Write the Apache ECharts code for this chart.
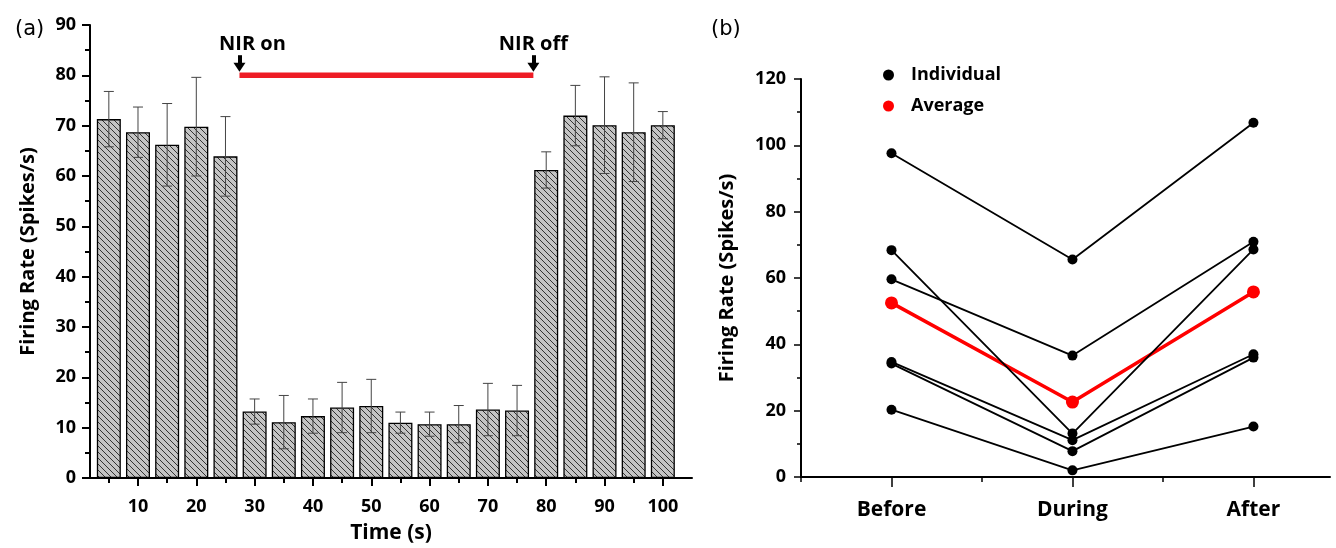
<!DOCTYPE html>
<html>
<head>
<meta charset="utf-8">
<script src="https://cdn.jsdelivr.net/npm/echarts@6/dist/echarts.min.js"></script>
<style>
    html, body { margin: 0; padding: 0; background: #fff; }
    #main { width: 1336px; height: 548px; }
</style>
</head>
<body>
<div id="main"></div>
<script type="text/javascript">
    // (a) firing rate per 5 s bin
    var times = [5, 10, 15, 20, 25, 30, 35, 40, 45, 50, 55, 60, 65, 70, 75, 80, 85, 90, 95, 100];
    var rateMean = [71.3, 68.7, 66.2, 69.8, 63.9, 13.2, 11.1, 12.3, 14.0, 14.3, 11.0, 10.7, 10.7, 13.6, 13.4, 61.2, 72.0, 70.1, 68.7, 70.1];
    var rateErr = [5.5, 5.0, 8.2, 9.8, 7.9, 2.5, 5.3, 3.4, 5.0, 5.3, 2.1, 2.4, 3.7, 5.2, 5.0, 3.6, 6.0, 9.6, 9.8, 2.7];
    var timeLabels = [10, 20, 30, 40, 50, 60, 70, 80, 90, 100];
    var timeMinor = [5, 15, 25, 35, 45, 55, 65, 75, 85, 95];
    var nirOn = 27.4, nirOff = 77.8, nirLevel = 80;

    // (b) before / during / after
    var phases = ['Before', 'During', 'After'];
    var individuals = [
        [97.6, 65.6, 106.8],
        [59.6, 36.6, 70.9],
        [68.4, 13.1, 68.6],
        [34.7, 11.1, 37.0],
        [34.2, 7.8, 36.0],
        [20.3, 2.0, 15.2]
    ];
    var average = [52.5, 22.6, 55.8];

    var FONT = 'Open Sans';

    // hatch pattern for bars
    function hatch() {
        var c = document.createElement('canvas');
        c.width = 6; c.height = 6;
        var ctx = c.getContext('2d');
        ctx.fillStyle = '#c4c4c4';
        ctx.fillRect(0, 0, 6, 6);
        ctx.strokeStyle = '#333';
        ctx.lineWidth = 1;
        for (var k = -6; k <= 6; k += 6) {
            ctx.beginPath();
            ctx.moveTo(k, 0);
            ctx.lineTo(k + 6, 6);
            ctx.stroke();
        }
        return c;
    }

    var barData = times.map(function (t, i) { return [t, rateMean[i]]; });
    var errData = times.map(function (t, i) { return [t, rateMean[i], rateErr[i]]; });

    var bSeries = [{
        name: 'Average',
        type: 'line',
        xAxisIndex: 2,
        yAxisIndex: 1,
        data: average.map(function (v, i) { return [i, v]; }),
        symbol: 'circle',
        symbolSize: 13,
        itemStyle: { color: '#ff0000' },
        lineStyle: { color: '#ff0000', width: 3.5 },
        z: 2
    }];
    individuals.forEach(function (row) {
        bSeries.push({
            name: 'Individual',
            type: 'line',
            xAxisIndex: 2,
            yAxisIndex: 1,
            data: row.map(function (v, i) { return [i, v]; }),
            symbol: 'circle',
            symbolSize: 10,
            itemStyle: { color: '#000' },
            lineStyle: { color: '#000', width: 1.8 },
            z: 3
        });
    });

    var axisText = { fontFamily: FONT, fontWeight: 'bold', fontSize: 18, color: '#000' };
    var nameText = { fontFamily: FONT, fontWeight: 'bold', fontSize: 20, color: '#000' };

    var myChart = echarts.init(document.getElementById('main'));
    var option = {
        animation: false,
        backgroundColor: '#fff',
        title: [
            { text: '(a)', left: 10, top: 14, textStyle: { fontFamily: 'DejaVu Sans', fontWeight: 'normal', fontSize: 21, color: '#000' } },
            { text: '(b)', left: 706, top: 14, textStyle: { fontFamily: 'DejaVu Sans', fontWeight: 'normal', fontSize: 21, color: '#000' } }
        ],
        legend: {
            data: ['Individual', 'Average'],
            orient: 'vertical',
            left: 878,
            top: 61,
            itemWidth: 11,
            itemHeight: 11,
            itemGap: 13,
            icon: 'circle',
            textStyle: { fontFamily: FONT, fontWeight: 'bold', fontSize: 18, color: '#000', padding: [0, 0, 0, 12] }
        },
        grid: [
            { left: 90, top: 25, width: 602, height: 453, containLabel: false, outerBoundsMode: 'none' },
            { left: 801, top: 79, width: 529, height: 398, containLabel: false, outerBoundsMode: 'none' }
        ],
        xAxis: [
            {
                type: 'value', gridIndex: 0, min: 1.77, max: 105,
                name: 'Time (s)', nameLocation: 'middle', nameGap: 45,
                nameTextStyle: { fontFamily: FONT, fontWeight: 'bold', fontSize: 21, color: '#000' },
                axisLine: { onZero: false, lineStyle: { color: '#000', width: 2 } },
                axisTick: { customValues: timeLabels, length: 8, lineStyle: { color: '#000', width: 2 } },
                axisLabel: Object.assign({ customValues: timeLabels, margin: 20 }, axisText),
                splitLine: { show: false }
            },
            {
                type: 'value', gridIndex: 0, min: 1.77, max: 105, position: 'bottom',
                axisLine: { show: false, onZero: false },
                axisTick: { customValues: timeMinor, length: 5, lineStyle: { color: '#000', width: 2 } },
                axisLabel: { show: false },
                splitLine: { show: false }
            },
            {
                type: 'value', gridIndex: 1, min: -0.5, max: 2.423,
                axisLine: { onZero: false, lineStyle: { color: '#000', width: 2 } },
                axisTick: { customValues: [0, 1, 2], length: 10, lineStyle: { color: '#000', width: 1.5 } },
                axisLabel: Object.assign({ customValues: [0, 1, 2], margin: 23, formatter: function (v) { return phases[v]; } }, axisText, { fontSize: 21 }),
                splitLine: { show: false }
            },
            {
                type: 'value', gridIndex: 1, min: -0.5, max: 2.423, position: 'bottom',
                axisLine: { show: false, onZero: false },
                axisTick: { customValues: [-0.5, 0.5, 1.5], length: 5, lineStyle: { color: '#000', width: 1.5 } },
                axisLabel: { show: false },
                splitLine: { show: false }
            }
        ],
        yAxis: [
            {
                type: 'value', gridIndex: 0, min: 0, max: 90, interval: 10,
                name: 'Firing Rate (Spikes/s)', nameLocation: 'middle', nameGap: 52,
                nameTextStyle: nameText,
                axisLine: { show: true, onZero: false, lineStyle: { color: '#000', width: 2 } },
                axisTick: { show: true, length: 8, lineStyle: { color: '#000', width: 2 } },
                minorTick: { show: true, splitNumber: 2, length: 5, lineStyle: { color: '#000', width: 2 } },
                axisLabel: Object.assign({ margin: 14 }, axisText),
                splitLine: { show: false }
            },
            {
                type: 'value', gridIndex: 1, min: 0, max: 120, interval: 20,
                name: 'Firing Rate (Spikes/s)', nameLocation: 'middle', nameGap: 64,
                nameTextStyle: nameText,
                axisLine: { show: true, onZero: false, lineStyle: { color: '#000', width: 2 } },
                axisTick: { show: true, length: 7, lineStyle: { color: '#000', width: 1.5 } },
                minorTick: { show: true, splitNumber: 2, length: 4, lineStyle: { color: '#000', width: 1.5 } },
                axisLabel: Object.assign({ margin: 15 }, axisText),
                splitLine: { show: false }
            }
        ],
        series: [
            {
                type: 'bar',
                xAxisIndex: 0,
                yAxisIndex: 0,
                data: barData,
                barWidth: 24,
                itemStyle: { color: { image: hatch(), repeat: 'repeat' }, borderColor: '#000', borderWidth: 1.3 }
            },
            {
                type: 'custom',
                xAxisIndex: 0,
                yAxisIndex: 0,
                data: errData,
                z: 5,
                renderItem: function (params, api) {
                    var x = api.value(0), y = api.value(1), e = api.value(2);
                    var top = api.coord([x, y + e]);
                    var bot = api.coord([x, y - e]);
                    var hw = 5;
                    var st = { stroke: '#444', lineWidth: 1 };
                    return {
                        type: 'group',
                        children: [
                            { type: 'line', shape: { x1: top[0], y1: top[1], x2: bot[0], y2: bot[1] }, style: st },
                            { type: 'line', shape: { x1: top[0] - hw, y1: top[1], x2: top[0] + hw, y2: top[1] }, style: st },
                            { type: 'line', shape: { x1: bot[0] - hw, y1: bot[1], x2: bot[0] + hw, y2: bot[1] }, style: st }
                        ]
                    };
                }
            },
            {
                type: 'line',
                xAxisIndex: 0,
                yAxisIndex: 0,
                data: [[nirOn, nirLevel], [nirOff, nirLevel]],
                symbol: 'none',
                lineStyle: { color: '#ee1c25', width: 5.5 },
                z: 4,
                markLine: {
                    silent: true,
                    symbol: ['none', 'triangle'],
                    symbolSize: [12, 9],
                    lineStyle: { color: '#000', width: 4, type: 'solid' },
                    label: {
                        show: true, position: 'start', distance: 1,
                        formatter: function (p) { return p.name; },
                        fontFamily: FONT, fontWeight: 'bold', fontSize: 20, color: '#000'
                    },
                    data: [
                        [{ name: 'NIR on', coord: [nirOn, 84.0], label: { offset: [13, 0] } }, { coord: [nirOn, 81.6] }],
                        [{ name: 'NIR off', coord: [nirOff, 84.0] }, { coord: [nirOff, 81.6] }]
                    ]
                }
            }
        ].concat(bSeries)
    };
    myChart.setOption(option);
</script>
</body>
</html>
